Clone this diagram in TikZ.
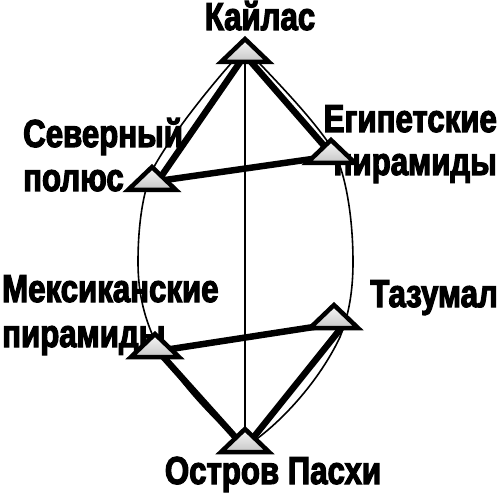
\documentclass[tikz,border=0pt]{standalone}
\usepackage{fontspec}
\newfontfamily\labfont{Liberation Sans}[FakeStretch=0.8,FakeBold=3]
\begin{document}
\begin{tikzpicture}[x=1pt,y=-1pt,
  lensline/.style={line width=1.6pt},
  axisline/.style={line width=1.6pt},
  link/.style={line width=6.5pt},
  pyrshape/.style={line width=4.5pt, line join=miter, top color=gray!5, bottom color=gray!45},
  lab/.style={font=\labfont\bfseries\fontsize{39}{40}\selectfont, inner sep=0pt},
  pyr/.pic={\path[pyrshape,draw] (0,-11) -- (24,12) -- (-24,12) -- cycle;}
]
\useasboundingbox (0,0) rectangle (500,494);
% labels
\node[lab,anchor=base] (tK) at (260,30) {Кайлас};
\node[lab,anchor=base west] (tS1) at (23,147) {Северный};
\node[lab,anchor=base west] (tS2) at (23,191) {полюс};
\node[lab,anchor=base east] (tE1) at (497,132) {Египетские};
\node[lab,anchor=base east] (tE2) at (497,175) {пирамиды};
\node[lab,anchor=base west] (tM1) at (2,302) {Мексиканские};
\node[lab,anchor=base west] (tM2) at (2,347) {пирамиды};
\node[lab,anchor=base east] (tT) at (498,307) {Тазумал};
\node[lab,anchor=base] (tP) at (273,484) {Остров Пасхи};
% hubs
\coordinate (K) at (245,55);
\coordinate (S) at (158,181);
\coordinate (E) at (333,156);
\coordinate (M) at (158,351);
\coordinate (T) at (346,322);
\coordinate (P) at (245,448);
% lens
\draw[lensline] (245,48) .. controls (215,80) and (175,130) .. (155,165)
  .. controls (143,188) and (138,225) .. (138,262)
  .. controls (138,295) and (145,320) .. (157,345)
  .. controls (180,385) and (215,420) .. (245,447);
\draw[lensline] (245,48) .. controls (275,80) and (310,115) .. (332,148)
  .. controls (345,170) and (353,215) .. (353,262)
  .. controls (353,290) and (349,315) .. (340,337)
  .. controls (320,380) and (280,425) .. (245,447);
% axis
\draw[axisline] (K) -- (P);
% links
\draw[link] (K) -- (S);
\draw[link] (K) -- (E);
\draw[link] (S) -- (E);
\draw[link] (M) -- (T);
\draw[link] (M) -- (P);
\draw[link] (T) -- (P);
% pyramids
\pic at (245,50) {pyr};
\pic at (152,178) {pyr};
\pic at (331,151) {pyr};
\pic at (155,345) {pyr};
\pic at (334,316) {pyr};
\pic at (245,440) {pyr};
\end{tikzpicture}
\end{document}
